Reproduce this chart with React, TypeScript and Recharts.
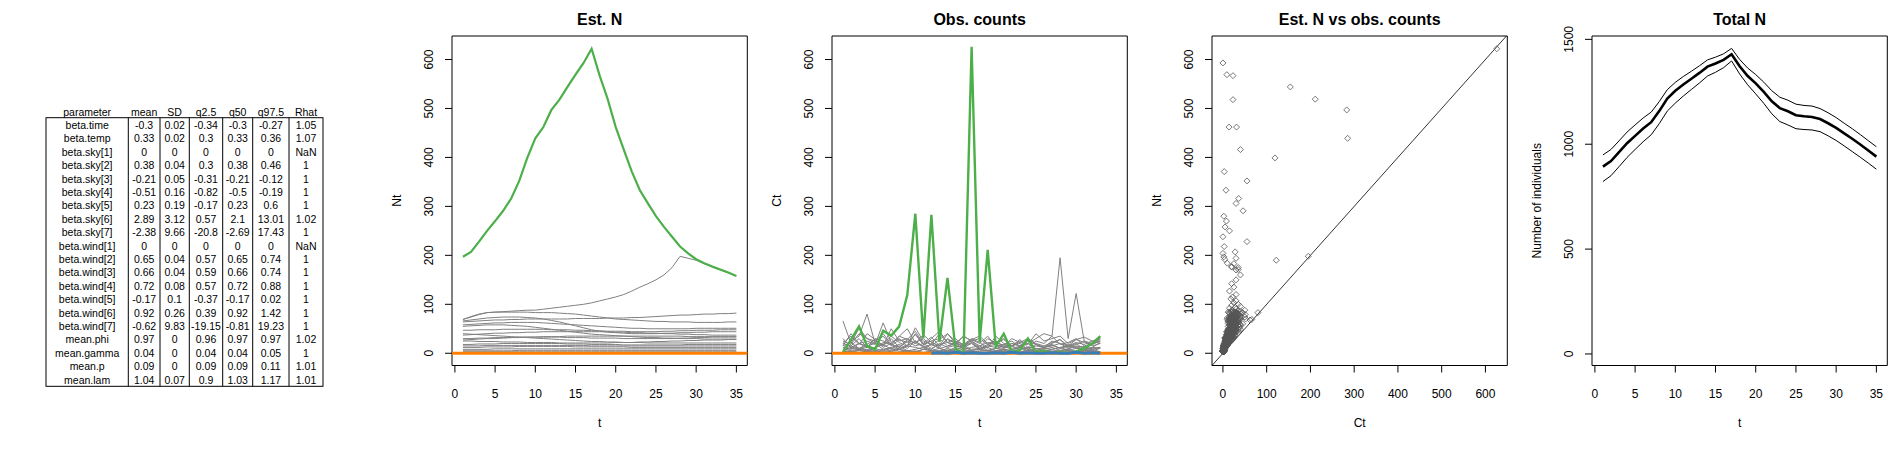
import React from 'react';
import { LineChart, Line, XAxis, YAxis, ScatterChart, Scatter, ReferenceArea, ReferenceLine } from 'recharts';

// ---- table (posterior summary) ----
const paramNames = ['beta.time', 'beta.temp', 'beta.sky[1]', 'beta.sky[2]', 'beta.sky[3]', 'beta.sky[4]', 'beta.sky[5]', 'beta.sky[6]', 'beta.sky[7]', 'beta.wind[1]', 'beta.wind[2]', 'beta.wind[3]', 'beta.wind[4]', 'beta.wind[5]', 'beta.wind[6]', 'beta.wind[7]', 'mean.phi', 'mean.gamma', 'mean.p', 'mean.lam'];
const colMean = ['-0.3', '0.33', '0', '0.38', '-0.21', '-0.51', '0.23', '2.89', '-2.38', '0', '0.65', '0.66', '0.72', '-0.17', '0.92', '-0.62', '0.97', '0.04', '0.09', '1.04'];
const colSD = ['0.02', '0.02', '0', '0.04', '0.05', '0.16', '0.19', '3.12', '9.66', '0', '0.04', '0.04', '0.08', '0.1', '0.26', '9.83', '0', '0', '0', '0.07'];
const colQ025 = ['-0.34', '0.3', '0', '0.3', '-0.31', '-0.82', '-0.17', '0.57', '-20.8', '0', '0.57', '0.59', '0.57', '-0.37', '0.39', '-19.15', '0.96', '0.04', '0.09', '0.9'];
const colQ50 = ['-0.3', '0.33', '0', '0.38', '-0.21', '-0.5', '0.23', '2.1', '-2.69', '0', '0.65', '0.66', '0.72', '-0.17', '0.92', '-0.81', '0.97', '0.04', '0.09', '1.03'];
const colQ975 = ['-0.27', '0.36', '0', '0.46', '-0.12', '-0.19', '0.6', '13.01', '17.43', '0', '0.74', '0.74', '0.88', '0.02', '1.42', '19.23', '0.97', '0.05', '0.11', '1.17'];
const colRhat = ['1.05', '1.07', 'NaN', '1', '1', '1', '1', '1.02', '1', 'NaN', '1', '1', '1', '1', '1', '1', '1.02', '1', '1.01', '1.01'];
const tableHeaders = ['parameter', 'mean', 'SD', 'q2.5', 'q50', 'q97.5', 'Rhat'];

// ---- time axis ----
const tVals = [1, 2, 3, 4, 5, 6, 7, 8, 9, 10, 11, 12, 13, 14, 15, 16, 17, 18, 19, 20, 21, 22, 23, 24, 25, 26, 27, 28, 29, 30, 31, 32, 33, 34, 35];
const tTicks = [0, 5, 10, 15, 20, 25, 30, 35];
const nTicks = [0, 100, 200, 300, 400, 500, 600];
const ctTicks = [0, 100, 200, 300, 400, 500, 600];
const totTicks = [0, 500, 1000, 1500];

// highlighted site
const greenN = [197, 207, 228, 250, 270, 291, 316, 352, 399, 439, 462, 497, 518, 544, 569, 593, 622, 567, 519, 462, 416, 371, 333, 306, 280, 258, 238, 218, 204, 192, 184, 177, 171, 165, 158];
const greenC = [2, 28, 55, 15, 8, 46, 36, 55, 119, 285, 31, 283, 23, 154, 9, 0, 626, 23, 211, 14, 40, 3, 7, 30, 2, 5, 0, 3, 0, 4, 10, 20, 35];
// site shown in blue on the counts panel
const blueC = [null, null, null, null, null, null, null, null, null, null, null, 0, 1, 0, 2, 0, 1, 0, 0, 1, 0, 2, 0, 1, 0, 0, 1, 0, 0, 2, 0, 1, 0];

// grey sites: estimated N
const siteA_N = [69, 74, 79, 83, 84, 85, 86, 87, 88, 88, 90, 92, 94, 96, 98, 100, 103, 107, 111, 115, 120, 127, 135, 142, 150, 160, 175, 198, 194, 190, 183, 176, 170, 164, 158];
const siteB_N = [69, 75, 80, 83, 84, 84, 84, 84, 84, 83, 83, 83, 82, 81, 80, 78, 76, 74, 72, 70, 69, 68, 67, 66, 65, 65, 64, 64, 64, 63, 63, 63, 63, 64, 64];
const siteC_N = [64, 65, 66, 67, 68, 68, 69, 69, 70, 70, 70, 70, 70, 70, 71, 71, 71, 71, 72, 72, 72, 73, 73, 74, 75, 76, 77, 78, 78, 79, 80, 80, 81, 81, 82];
const siteD_N = [58, 59, 60, 61, 62, 62, 63, 63, 63, 63, 62, 61, 60, 59, 58, 57, 56, 55, 54, 53, 52, 51, 51, 50, 50, 50, 50, 50, 50, 51, 51, 51, 51, 51, 51];
const siteE_N = [66, 68, 70, 72, 73, 74, 74, 74, 73, 72, 70, 67, 64, 60, 56, 52, 48, 45, 43, 42, 41, 40, 40, 40, 40, 41, 41, 42, 42, 43, 43, 44, 44, 44, 44];
const siteF_N = [37, 38, 39, 40, 41, 41, 42, 42, 43, 43, 44, 44, 44, 44, 44, 44, 44, 44, 44, 43, 43, 42, 42, 41, 41, 40, 40, 39, 39, 38, 38, 37, 37, 37, 37];
const siteG_N = [30, 30, 31, 31, 32, 32, 32, 33, 33, 33, 33, 33, 33, 32, 32, 32, 31, 31, 31, 31, 30, 30, 30, 30, 30, 30, 30, 31, 31, 32, 32, 33, 33, 33, 33];
const siteH_N = [25, 25, 24, 24, 24, 23, 23, 23, 22, 22, 22, 22, 21, 21, 21, 21, 21, 21, 21, 22, 22, 22, 23, 23, 24, 24, 25, 25, 26, 26, 27, 27, 27, 28, 28];
const siteI_N = [18, 18, 19, 19, 19, 20, 20, 20, 20, 20, 20, 20, 20, 19, 19, 19, 18, 18, 18, 18, 17, 17, 17, 17, 17, 17, 17, 17, 18, 18, 18, 18, 18, 18, 18];
const siteJ_N = [12, 12, 12, 13, 13, 13, 13, 14, 14, 14, 14, 14, 14, 14, 13, 13, 13, 13, 13, 13, 13, 12, 12, 12, 12, 12, 12, 12, 12, 12, 12, 12, 12, 12, 12];
const siteK_N = [8, 8, 8, 8, 9, 9, 9, 9, 9, 9, 9, 9, 9, 9, 9, 9, 9, 9, 9, 9, 9, 9, 9, 9, 9, 9, 9, 9, 9, 9, 9, 9, 9, 9, 9];
const siteL_N = [5, 5, 5, 5, 5, 5, 5, 6, 6, 6, 6, 6, 6, 6, 6, 6, 6, 6, 6, 6, 6, 6, 6, 6, 6, 6, 6, 6, 6, 6, 6, 6, 6, 6, 6];
const siteM_N = [47, 47, 48, 48, 48, 49, 49, 49, 49, 49, 49, 48, 48, 48, 47, 47, 46, 46, 45, 45, 45, 44, 44, 44, 44, 45, 45, 46, 46, 47, 47, 47, 48, 48, 48];
const siteN_N = [27, 28, 29, 30, 30, 31, 32, 32, 33, 33, 34, 34, 34, 35, 35, 35, 35, 35, 35, 35, 35, 35, 35, 35, 35, 35, 35, 35, 34, 34, 34, 34, 34, 34, 34];
const siteO_N = [15, 15, 15, 16, 16, 16, 16, 16, 16, 16, 16, 16, 16, 16, 16, 16, 15, 15, 15, 15, 15, 15, 15, 15, 15, 15, 15, 15, 15, 15, 15, 15, 15, 15, 15];
const siteP_N = [3, 3, 3, 3, 3, 3, 3, 3, 3, 3, 3, 3, 3, 3, 3, 3, 3, 3, 3, 3, 3, 3, 3, 3, 3, 3, 3, 3, 3, 3, 3, 3, 3, 3, 3];
const siteQ_N = [55, 56, 57, 58, 58, 58, 57, 56, 55, 53, 51, 49, 47, 45, 43, 41, 39, 38, 37, 36, 35, 34, 33, 32, 32, 31, 31, 30, 30, 30, 29, 29, 29, 29, 29];
const siteR_N = [40, 39, 38, 37, 36, 35, 34, 33, 32, 31, 30, 29, 28, 27, 26, 25, 24, 24, 23, 23, 22, 22, 22, 21, 21, 21, 21, 21, 21, 21, 21, 21, 21, 21, 21];

// grey sites: observed counts (t = 1..33)
const siteA_C = [66, 20, 51, 30, 25, 40, 18, 35, 50, 22, 30, 15, 28, 40, 20, 35, 25, 30, 18, 22, 30, 15, 25, 20, 30, 40, 35, 195, 30, 122, 25, 20, 30];
const siteB_C = [10, 25, 35, 80, 20, 15, 30, 12, 28, 45, 20, 33, 15, 40, 25, 18, 30, 22, 10, 35, 20, 15, 28, 12, 25, 20, 35, 18, 22, 30, 15, 20, 25];
const siteC_C = [30, 12, 20, 25, 18, 62, 22, 30, 15, 52, 25, 18, 40, 22, 30, 15, 28, 35, 20, 25, 15, 30, 22, 18, 40, 25, 30, 35, 20, 28, 33, 25, 30];
const siteD_C = [15, 40, 20, 12, 30, 25, 18, 35, 28, 20, 15, 30, 45, 22, 18, 35, 25, 12, 30, 20, 28, 15, 22, 30, 18, 12, 25, 20, 15, 28, 22, 18, 25];
const siteE_C = [20, 35, 18, 40, 28, 15, 50, 25, 30, 20, 38, 22, 15, 28, 20, 18, 25, 15, 22, 18, 12, 20, 15, 25, 18, 12, 20, 28, 15, 22, 18, 25, 20];
const siteF_C = [12, 8, 20, 15, 10, 22, 18, 12, 25, 15, 20, 10, 18, 22, 15, 12, 20, 8, 15, 18, 12, 20, 15, 10, 18, 12, 15, 20, 10, 15, 12, 18, 28];
const siteG_C = [8, 15, 10, 5, 12, 18, 8, 10, 15, 12, 8, 20, 10, 5, 12, 15, 8, 10, 12, 5, 10, 15, 8, 12, 10, 5, 8, 12, 15, 10, 8, 12, 10];
const siteH_C = [5, 10, 8, 12, 5, 8, 10, 15, 5, 8, 12, 6, 10, 5, 8, 12, 6, 8, 5, 10, 8, 6, 12, 8, 5, 10, 8, 12, 6, 10, 8, 5, 10];
const siteI_C = [3, 6, 8, 5, 10, 4, 6, 8, 5, 3, 8, 6, 4, 10, 5, 3, 6, 8, 5, 4, 6, 3, 8, 5, 4, 6, 3, 5, 8, 4, 6, 5, 3];
const siteJ_C = [2, 4, 6, 3, 5, 2, 4, 8, 3, 5, 2, 4, 6, 3, 2, 5, 4, 3, 2, 5, 3, 4, 2, 6, 3, 2, 4, 3, 5, 2, 4, 3, 2];
const siteK_C = [1, 3, 2, 4, 2, 1, 3, 2, 5, 2, 1, 3, 2, 4, 1, 2, 3, 1, 2, 4, 2, 1, 3, 2, 1, 2, 3, 1, 2, 3, 1, 2, 1];
const siteL_C = [0, 2, 1, 3, 1, 0, 2, 1, 2, 3, 1, 0, 2, 1, 3, 2, 0, 1, 2, 1, 3, 0, 1, 2, 1, 0, 2, 1, 3, 1, 0, 2, 1];
const siteM_C = [20, 15, 30, 12, 25, 18, 35, 22, 14, 40, 18, 25, 30, 15, 22, 12, 28, 20, 35, 15, 18, 25, 12, 30, 20, 15, 22, 28, 12, 18, 25, 15, 20];
const siteN_C = [6, 12, 9, 15, 20, 8, 12, 18, 10, 25, 14, 8, 20, 12, 16, 10, 22, 8, 15, 12, 18, 10, 14, 20, 8, 12, 16, 10, 18, 12, 14, 8, 12];
const siteO_C = [4, 2, 6, 8, 3, 5, 10, 4, 6, 2, 8, 5, 3, 7, 4, 9, 2, 5, 6, 3, 8, 4, 2, 6, 5, 3, 7, 4, 6, 2, 5, 8, 3];
const siteP_C = [0, 1, 0, 2, 1, 0, 1, 0, 0, 2, 1, 0, 1, 0, 2, 0, 1, 0, 0, 1, 2, 0, 1, 0, 0, 1, 0, 2, 1, 0, 0, 1, 0];
const siteQ_C = [25, 18, 40, 30, 20, 35, 15, 28, 22, 38, 18, 25, 12, 30, 20, 15, 22, 10, 18, 25, 12, 15, 20, 8, 15, 12, 18, 10, 14, 20, 8, 12, 22];
const siteR_C = [15, 22, 10, 18, 28, 12, 20, 8, 15, 25, 12, 18, 10, 14, 20, 8, 12, 15, 6, 10, 14, 8, 12, 5, 10, 8, 12, 6, 9, 14, 7, 10, 12];

// total N with credible interval
const totMean = [893, 920, 962, 1005, 1040, 1075, 1105, 1158, 1218, 1255, 1285, 1312, 1340, 1370, 1385, 1402, 1429, 1372, 1325, 1290, 1250, 1205, 1172, 1157, 1138, 1133, 1130, 1120, 1100, 1078, 1052, 1026, 999, 970, 941];
const totUpper = [949, 975, 1016, 1058, 1092, 1125, 1153, 1203, 1260, 1295, 1323, 1348, 1374, 1402, 1415, 1431, 1457, 1404, 1363, 1332, 1296, 1255, 1224, 1210, 1191, 1185, 1182, 1170, 1150, 1127, 1100, 1074, 1046, 1017, 988];
const totLower = [822, 850, 893, 937, 975, 1012, 1045, 1098, 1158, 1196, 1230, 1261, 1292, 1325, 1343, 1365, 1397, 1335, 1283, 1240, 1195, 1145, 1108, 1092, 1074, 1070, 1068, 1060, 1040, 1018, 992, 965, 938, 910, 881];

const greySitesN = [siteA_N, siteB_N, siteC_N, siteD_N, siteE_N, siteF_N, siteG_N, siteH_N, siteI_N, siteJ_N, siteK_N, siteL_N, siteM_N, siteN_N, siteO_N, siteP_N, siteQ_N, siteR_N];
const greySitesC = [siteA_C, siteB_C, siteC_C, siteD_C, siteE_C, siteF_C, siteG_C, siteH_C, siteI_C, siteJ_C, siteK_C, siteL_C, siteM_C, siteN_C, siteO_C, siteP_C, siteQ_C, siteR_C];

const GREEN = '#4DAF4A';
const ORANGE = '#FF7F00';
const BLUE = '#377EB8';
const GREY = '#808080';

// layout of one R panel
const W = 380;
const H = 450;
const MARGIN = { top: 36, right: 12.7, bottom: 0, left: 0 };
const Y_W = 72;
const X_H = 84.5;
const PLOT_L = 72;
const PLOT_R = 367.3;
const PLOT_MID_Y = 200.75;

const T_DOM = [-0.36, 36.36];
const N_DOM = [-25, 648];
const CT_DOM = [-25, 650];
const TOT_DOM = [-55, 1516];

const estRows = tVals.map((t, i) => {
    const row: any = { t, green: greenN[i] };
    greySitesN.forEach((s, k) => { row['g' + k] = s[i]; });
    return row;
});

const obsRows = tVals.map((t, i) => {
    const row: any = { t, green: greenC[i] ?? null, blue: blueC[i] ?? null };
    greySitesC.forEach((s, k) => { row['g' + k] = s[i] ?? null; });
    return row;
});

const scatterPts: { ct: number; nt: number }[] = [];
greySitesC.forEach((cArr, k) => {
    cArr.forEach((c, i) => { scatterPts.push({ ct: c, nt: greySitesN[k][i] }); });
});
greenC.forEach((c, i) => { scatterPts.push({ ct: c, nt: greenN[i] }); });

const totRows = tVals.map((t, i) => ({ t, mean: totMean[i], lo: totLower[i], hi: totUpper[i] }));

const XTick = (props: any) => {
    const { x, y, payload } = props;
    return <text x={x} y={y} textAnchor="middle" dominantBaseline="central" fontSize={12} fill="#000">{payload.value}</text>;
};

const YTick = (props: any) => {
    const { x, y, payload } = props;
    return (
        <text x={x} y={y} transform={`rotate(-90 ${x} ${y})`} textAnchor="middle" dominantBaseline="central" fontSize={12} fill="#000">
            {payload.value}
        </text>
    );
};

const xTitle = (text: string) => ({
    content: () => <text x={(PLOT_L + PLOT_R) / 2} y={427} textAnchor="middle" fontSize={12} fill="#000">{text}</text>,
});

const yTitle = (text: string) => ({
    content: () => (
        <text x={17} y={PLOT_MID_Y} transform={`rotate(-90 17 ${PLOT_MID_Y})`} textAnchor="middle" dominantBaseline="central" fontSize={12} fill="#000">
            {text}
        </text>
    ),
});

const Diamond = (props: any) => {
    const { cx, cy } = props;
    const r = 3;
    return <path d={`M${cx},${cy - r}L${cx + r},${cy}L${cx},${cy + r}L${cx - r},${cy}Z`} fill="none" stroke="#555" strokeWidth={0.8} />;
};

function Title({ text }: { text: string }) {
    return (
        <div style={{ position: 'absolute', left: PLOT_L, top: 9, width: PLOT_R - PLOT_L, textAlign: 'center', fontWeight: 'bold', fontSize: 16, lineHeight: '22px' }}>
            {text}
        </div>
    );
}

function Panel({ index, title, children }: { index: number; title: string; children: React.ReactNode }) {
    return (
        <div style={{ position: 'absolute', left: W * index, top: 0, width: W, height: H }}>
            {children}
            <Title text={title} />
        </div>
    );
}

const axisCommon = { axisLine: false, tickSize: 7, tickLine: { stroke: '#000' }, allowDataOverflow: true, interval: 0 as const };

function SummaryTable() {
    const cols = [paramNames, colMean, colSD, colQ025, colQ50, colQ975, colRhat];
    const edges = [46, 128.3, 160, 189.3, 222.7, 252.7, 289, 323];
    const rowY0 = 125;
    const rowH = 13.4;
    const top = 117.7;
    const bottom = rowY0 + (paramNames.length - 1) * rowH + 6.7;
    return (
        <svg width={W} height={H} style={{ position: 'absolute', left: 0, top: 0 }}>
            {tableHeaders.map((h, c) => (
                <text key={h} x={(edges[c] + edges[c + 1]) / 2} y={111.7} textAnchor="middle" dominantBaseline="central" fontSize={10.5} fill="#000">{h}</text>
            ))}
            <rect x={edges[0]} y={top} width={edges[edges.length - 1] - edges[0]} height={bottom - top} fill="none" stroke="#000" strokeWidth={1} />
            {edges.slice(1, -1).map((e) => (
                <line key={e} x1={e} x2={e} y1={top} y2={bottom} stroke="#000" strokeWidth={1} />
            ))}
            {cols.map((col, c) => col.map((v, r) => (
                <text key={c + '-' + r} x={(edges[c] + edges[c + 1]) / 2} y={rowY0 + r * rowH} textAnchor="middle" dominantBaseline="central" fontSize={10.5} fill="#000">{v}</text>
            )))}
        </svg>
    );
}

export default function App() {
    return (
        <div style={{ position: 'absolute', left: 0, top: 0, width: 1900, height: 450, background: '#fff', fontFamily: '"Liberation Sans", Arial, sans-serif', color: '#000' }}>
            <SummaryTable />

            <Panel index={1} title="Est. N">
                <LineChart width={W} height={H} data={estRows} margin={MARGIN}>
                    <XAxis dataKey="t" type="number" domain={T_DOM} ticks={tTicks} height={X_H} tickMargin={21} tick={<XTick />} label={xTitle('t')} {...axisCommon} />
                    <YAxis type="number" domain={N_DOM} ticks={nTicks} width={Y_W} tickMargin={16.4} tick={<YTick />} label={yTitle('Nt')} {...axisCommon} />
                    {greySitesN.map((_, k) => (
                        <Line key={k} dataKey={'g' + k} stroke={GREY} strokeWidth={1} dot={false} activeDot={false} isAnimationActive={false} />
                    ))}
                    <Line dataKey="green" stroke={GREEN} strokeWidth={2.2} dot={false} activeDot={false} isAnimationActive={false} />
                    <ReferenceLine y={0} stroke={ORANGE} strokeWidth={3} />
                    <ReferenceArea x1={T_DOM[0]} x2={T_DOM[1]} y1={N_DOM[0]} y2={N_DOM[1]} fill="none" stroke="#000" strokeWidth={1} ifOverflow="visible" />
                </LineChart>
            </Panel>

            <Panel index={2} title="Obs. counts">
                <LineChart width={W} height={H} data={obsRows} margin={MARGIN}>
                    <XAxis dataKey="t" type="number" domain={T_DOM} ticks={tTicks} height={X_H} tickMargin={21} tick={<XTick />} label={xTitle('t')} {...axisCommon} />
                    <YAxis type="number" domain={N_DOM} ticks={nTicks} width={Y_W} tickMargin={16.4} tick={<YTick />} label={yTitle('Ct')} {...axisCommon} />
                    {greySitesC.map((_, k) => (
                        <Line key={k} dataKey={'g' + k} stroke={GREY} strokeWidth={1} dot={false} activeDot={false} isAnimationActive={false} />
                    ))}
                    <Line dataKey="green" stroke={GREEN} strokeWidth={2.4} dot={false} activeDot={false} isAnimationActive={false} />
                    <ReferenceLine y={0} stroke={ORANGE} strokeWidth={3} />
                    <Line dataKey="blue" stroke={BLUE} strokeWidth={3} dot={false} activeDot={false} isAnimationActive={false} />
                    <ReferenceArea x1={T_DOM[0]} x2={T_DOM[1]} y1={N_DOM[0]} y2={N_DOM[1]} fill="none" stroke="#000" strokeWidth={1} ifOverflow="visible" />
                </LineChart>
            </Panel>

            <Panel index={3} title="Est. N vs obs. counts">
                <ScatterChart width={W} height={H} margin={MARGIN}>
                    <XAxis dataKey="ct" type="number" domain={CT_DOM} ticks={ctTicks} height={X_H} tickMargin={21} tick={<XTick />} label={xTitle('Ct')} {...axisCommon} />
                    <YAxis dataKey="nt" type="number" domain={N_DOM} ticks={nTicks} width={Y_W} tickMargin={16.4} tick={<YTick />} label={yTitle('Nt')} {...axisCommon} />
                    <ReferenceLine segment={[{ x: -25, y: -25 }, { x: 648, y: 648 }]} stroke="#000" strokeWidth={0.8} ifOverflow="visible" />
                    <Scatter data={scatterPts} shape={Diamond} isAnimationActive={false} />
                    <ReferenceArea x1={CT_DOM[0]} x2={CT_DOM[1]} y1={N_DOM[0]} y2={N_DOM[1]} fill="none" stroke="#000" strokeWidth={1} ifOverflow="visible" />
                </ScatterChart>
            </Panel>

            <Panel index={4} title="Total N">
                <LineChart width={W} height={H} data={totRows} margin={MARGIN}>
                    <XAxis dataKey="t" type="number" domain={T_DOM} ticks={tTicks} height={X_H} tickMargin={21} tick={<XTick />} label={xTitle('t')} {...axisCommon} />
                    <YAxis type="number" domain={TOT_DOM} ticks={totTicks} width={Y_W} tickMargin={16.4} tick={<YTick />} label={yTitle('Number of individuals')} {...axisCommon} />
                    <Line dataKey="lo" stroke="#000" strokeWidth={1} dot={false} activeDot={false} isAnimationActive={false} />
                    <Line dataKey="hi" stroke="#000" strokeWidth={1} dot={false} activeDot={false} isAnimationActive={false} />
                    <Line dataKey="mean" stroke="#000" strokeWidth={2.6} dot={false} activeDot={false} isAnimationActive={false} />
                    <ReferenceArea x1={T_DOM[0]} x2={T_DOM[1]} y1={TOT_DOM[0]} y2={TOT_DOM[1]} fill="none" stroke="#000" strokeWidth={1} ifOverflow="visible" />
                </LineChart>
            </Panel>
        </div>
    );
}
